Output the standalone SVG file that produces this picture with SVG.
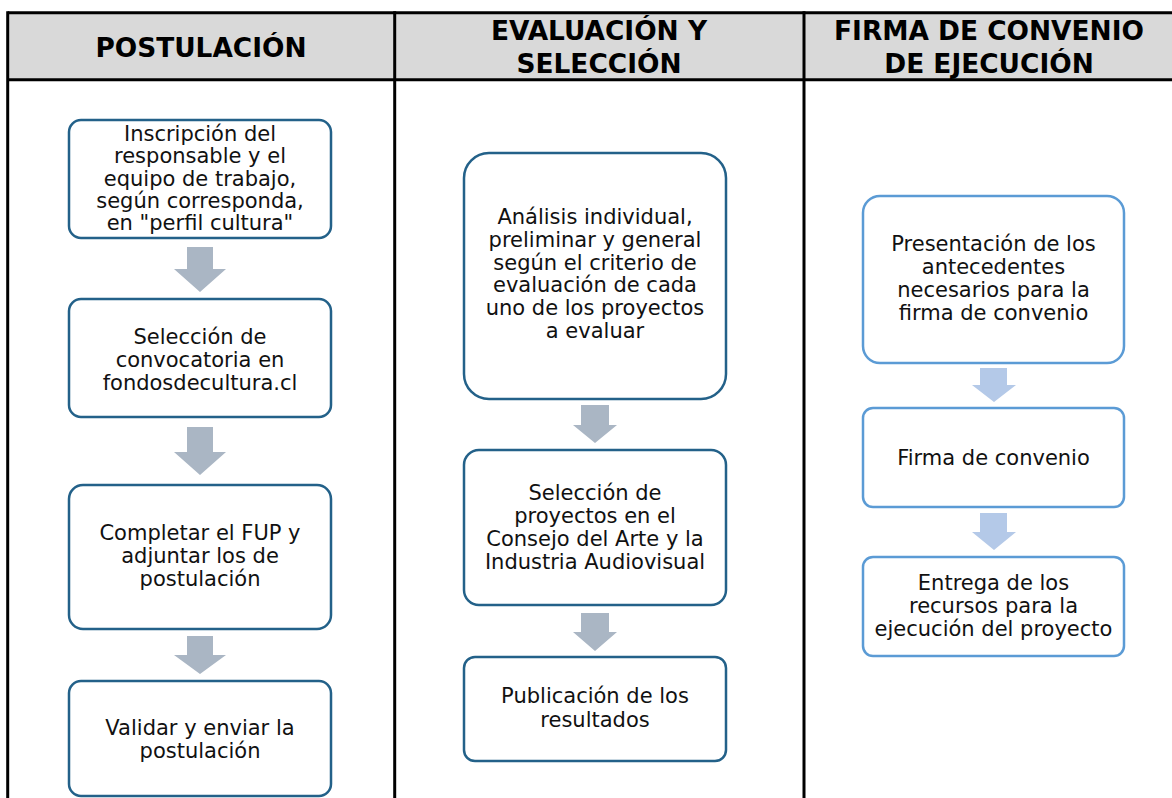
<svg xmlns="http://www.w3.org/2000/svg" width="1172" height="798" viewBox="0 0 1172 798">
<style>
.grid{fill:none;stroke:#000;stroke-width:3}
.hd{font-family:"DejaVu Sans",Verdana,sans-serif;font-weight:bold;font-size:26.4px;fill:#000;text-anchor:middle}
.t{font-family:"DejaVu Sans",Verdana,sans-serif;font-size:21px;fill:#111;text-anchor:middle}
.bd{fill:#fff;stroke:#236189;stroke-width:2.5}
.bl{fill:#fff;stroke:#5b9bd5;stroke-width:2.5}
.ad{fill:#aab6c4}
.al{fill:#b4c9e8}
</style>
<rect x="0" y="0" width="1172" height="798" fill="#fff"/>
<g id="table">
<rect x="7.7" y="12.7" width="1170" height="67" fill="#d9d9d9"/>
<line class="grid" x1="7.7" y1="12.7" x2="1180" y2="12.7"/>
<line class="grid" x1="7.7" y1="79.7" x2="1180" y2="79.7"/>
<line class="grid" x1="7.7" y1="11.2" x2="7.7" y2="800"/>
<line class="grid" x1="394.7" y1="11.2" x2="394.7" y2="800"/>
<line class="grid" x1="804" y1="11.2" x2="804" y2="800"/>
<text class="hd" x="201" y="57">POSTULACIÓN</text>
<text class="hd" x="599" y="40">EVALUACIÓN Y</text>
<text class="hd" x="599" y="73">SELECCIÓN</text>
<text class="hd" x="989" y="40">FIRMA DE CONVENIO</text>
<text class="hd" x="989" y="73">DE EJECUCIÓN</text>
</g>
<g id="connectors">
<polygon class="ad" points="187,247 213,247 213,269 226,269 200,292 174,269 187,269"/>
<polygon class="ad" points="187,427 213,427 213,452 226,452 200,475 174,452 187,452"/>
<polygon class="ad" points="187,636 213,636 213,655 226,655 200,674 174,655 187,655"/>
<polygon class="ad" points="581,405 609,405 609,425 617,425 595,443 573,425 581,425"/>
<polygon class="ad" points="581,613 609,613 609,632 617,632 595,651 573,632 581,632"/>
<polygon class="al" points="980,368 1007,368 1007,385 1016,385 994,402 972,385 980,385"/>
<polygon class="al" points="980,513 1007,513 1007,532 1016,532 994,550 972,532 980,532"/>
</g>
<g id="n1">
<rect class="bd" x="69" y="120" width="262" height="118" rx="12"/>
<text class="t" x="200" y="141">Inscripción del</text>
<text class="t" x="200" y="163.3">responsable y el</text>
<text class="t" x="200" y="185.6">equipo de trabajo,</text>
<text class="t" x="200" y="207.9">según corresponda,</text>
<text class="t" x="200" y="230.2">en "perfil cultura"</text>
</g>
<g id="n2">
<rect class="bd" x="69" y="299" width="262" height="118" rx="12"/>
<text class="t" x="200" y="344">Selección de</text>
<text class="t" x="200" y="367">convocatoria en</text>
<text class="t" x="200" y="390">fondosdecultura.cl</text>
</g>
<g id="n3">
<rect class="bd" x="69" y="485" width="262" height="144" rx="14"/>
<text class="t" x="200" y="540">Completar el FUP y</text>
<text class="t" x="200" y="563">adjuntar los de</text>
<text class="t" x="200" y="586">postulación</text>
</g>
<g id="n4">
<rect class="bd" x="69" y="681" width="262" height="115" rx="12"/>
<text class="t" x="200" y="735">Validar y enviar la</text>
<text class="t" x="200" y="758">postulación</text>
</g>
<g id="n5">
<rect class="bd" x="464" y="153" width="262" height="246" rx="25"/>
<text class="t" x="595" y="224">Análisis individual,</text>
<text class="t" x="595" y="247">preliminar y general</text>
<text class="t" x="595" y="269.5">según el criterio de</text>
<text class="t" x="595" y="292">evaluación de cada</text>
<text class="t" x="595" y="315">uno de los proyectos</text>
<text class="t" x="595" y="338">a evaluar</text>
</g>
<g id="n6">
<rect class="bd" x="464" y="450" width="262" height="155" rx="15"/>
<text class="t" x="595" y="500">Selección de</text>
<text class="t" x="595" y="523">proyectos en el</text>
<text class="t" x="595" y="546">Consejo del Arte y la</text>
<text class="t" x="595" y="569">Industria Audiovisual</text>
</g>
<g id="n7">
<rect class="bd" x="464" y="657" width="262" height="104" rx="11"/>
<text class="t" x="595" y="703">Publicación de los</text>
<text class="t" x="595" y="727">resultados</text>
</g>
<g id="n8">
<rect class="bl" x="863" y="196" width="261" height="167" rx="17"/>
<text class="t" x="993.5" y="251">Presentación de los</text>
<text class="t" x="993.5" y="274">antecedentes</text>
<text class="t" x="993.5" y="297">necesarios para la</text>
<text class="t" x="993.5" y="320">firma de convenio</text>
</g>
<g id="n9">
<rect class="bl" x="863" y="408" width="261" height="99" rx="10"/>
<text class="t" x="993.5" y="465">Firma de convenio</text>
</g>
<g id="n10">
<rect class="bl" x="863" y="557" width="261" height="99" rx="10"/>
<text class="t" x="993.5" y="590">Entrega de los</text>
<text class="t" x="993.5" y="613">recursos para la</text>
<text class="t" x="993.5" y="636">ejecución del proyecto</text>
</g>
</svg>
